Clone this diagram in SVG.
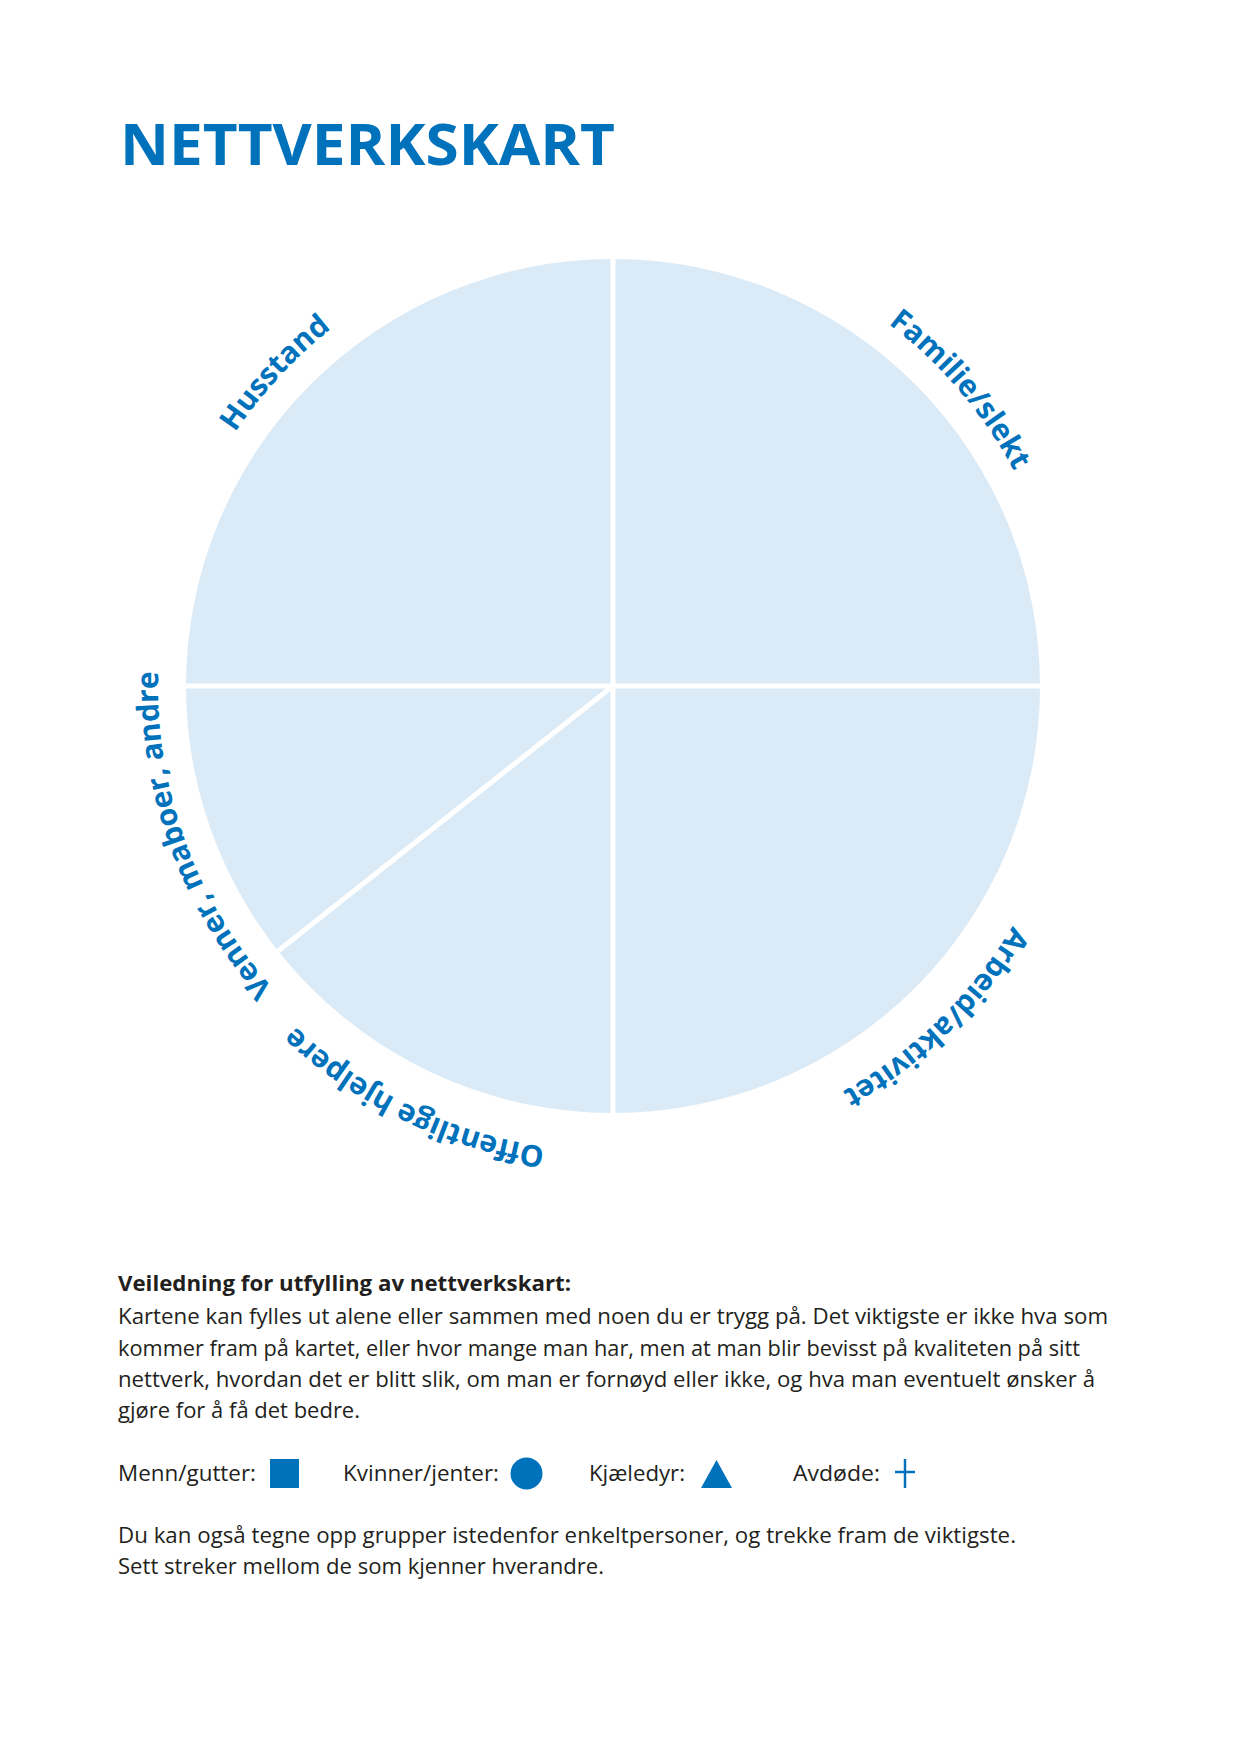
<svg xmlns="http://www.w3.org/2000/svg" xmlns:xlink="http://www.w3.org/1999/xlink" width="1240" height="1754" viewBox="0 0 1240 1754">
<style>
.title{font-family:"Open Sans","Liberation Sans",sans-serif;font-weight:700;fill:#0072BC}
.lbl{font-family:"Open Sans","Liberation Sans",sans-serif;font-weight:700;font-size:30px;fill:#0072BC}
.body{font-family:"Open Sans","Liberation Sans",sans-serif;font-size:21px;fill:#231F20}
.bold{font-weight:700}
.div{stroke:#FFFFFF;stroke-width:5;fill:none}
.sym{fill:#0072BC}
</style>
<defs>
<path id="ring" d="M 1068 686 A 455 455 0 1 1 158 686 A 455 455 0 1 1 1068 686"/>
<path id="ring2" d="M 1079 686 A 466 466 0 1 1 147 686 A 466 466 0 1 1 1079 686"/>
</defs>
<rect width="1240" height="1754" fill="#FFFFFF"/>
<text class="title" x="120" y="165" font-size="58" textLength="495" lengthAdjust="spacingAndGlyphs">NETTVERKSKART</text>
<g id="map">
<circle cx="613" cy="686" r="427" fill="#DAEAF6"/>
</g>
<g id="connectors">
<line class="div" x1="613" y1="255" x2="613" y2="1117"/>
<line class="div" x1="182" y1="686" x2="1044" y2="686"/>
<line class="div" x1="613" y1="686" x2="278" y2="951"/>
</g>
<g id="label-husstand"><text class="lbl" text-anchor="middle"><textPath href="#ring" xlink:href="#ring" startOffset="1769">Husstand</textPath></text></g>
<g id="label-familie"><text class="lbl" text-anchor="middle"><textPath href="#ring" xlink:href="#ring" startOffset="2537">Familie/slekt</textPath></text></g>
<g id="label-arbeid"><text class="lbl" text-anchor="middle"><textPath href="#ring2" xlink:href="#ring2" startOffset="372">Arbeid/aktivitet</textPath></text></g>
<g id="label-offentlige"><text class="lbl" text-anchor="middle"><textPath href="#ring2" xlink:href="#ring2" startOffset="941">Offentlige hjelpere</textPath></text></g>
<g id="label-venner"><text class="lbl" text-anchor="middle"><textPath href="#ring" xlink:href="#ring" startOffset="1271">Venner, maboer, andre</textPath></text></g>
<g id="guide">
<text class="body bold" x="118" y="1291" textLength="453" lengthAdjust="spacingAndGlyphs">Veiledning for utfylling av nettverkskart:</text>
<text class="body" x="118" y="1324" textLength="990" lengthAdjust="spacingAndGlyphs">Kartene kan fylles ut alene eller sammen med noen du er trygg på. Det viktigste er ikke hva som</text>
<text class="body" x="118" y="1356" textLength="962" lengthAdjust="spacingAndGlyphs">kommer fram på kartet, eller hvor mange man har, men at man blir bevisst på kvaliteten på sitt</text>
<text class="body" x="118" y="1387" textLength="977" lengthAdjust="spacingAndGlyphs">nettverk, hvordan det er blitt slik, om man er fornøyd eller ikke, og hva man eventuelt ønsker å</text>
<text class="body" x="118" y="1418" textLength="242" lengthAdjust="spacingAndGlyphs">gjøre for å få det bedre.</text>
</g>
<g id="legend">
<text class="body" x="118" y="1481" textLength="138" lengthAdjust="spacingAndGlyphs">Menn/gutter:</text>
<rect class="sym" x="270" y="1459" width="29" height="29"/>
<text class="body" x="343" y="1481" textLength="156" lengthAdjust="spacingAndGlyphs">Kvinner/jenter:</text>
<circle class="sym" cx="526.5" cy="1473.5" r="16"/>
<text class="body" x="589" y="1481" textLength="96" lengthAdjust="spacingAndGlyphs">Kjæledyr:</text>
<polygon class="sym" points="701,1488 732,1488 716.5,1460"/>
<text class="body" x="793" y="1481" textLength="87" lengthAdjust="spacingAndGlyphs">Avdøde:</text>
<line x1="905" y1="1459" x2="905" y2="1488" stroke="#0072BC" stroke-width="2.5"/>
<line x1="895" y1="1472" x2="915" y2="1472" stroke="#0072BC" stroke-width="2.5"/>
</g>
<g id="notes">
<text class="body" x="118" y="1543" textLength="898" lengthAdjust="spacingAndGlyphs">Du kan også tegne opp grupper istedenfor enkeltpersoner, og trekke fram de viktigste.</text>
<text class="body" x="118" y="1574" textLength="486" lengthAdjust="spacingAndGlyphs">Sett streker mellom de som kjenner hverandre.</text>
</g>
</svg>
